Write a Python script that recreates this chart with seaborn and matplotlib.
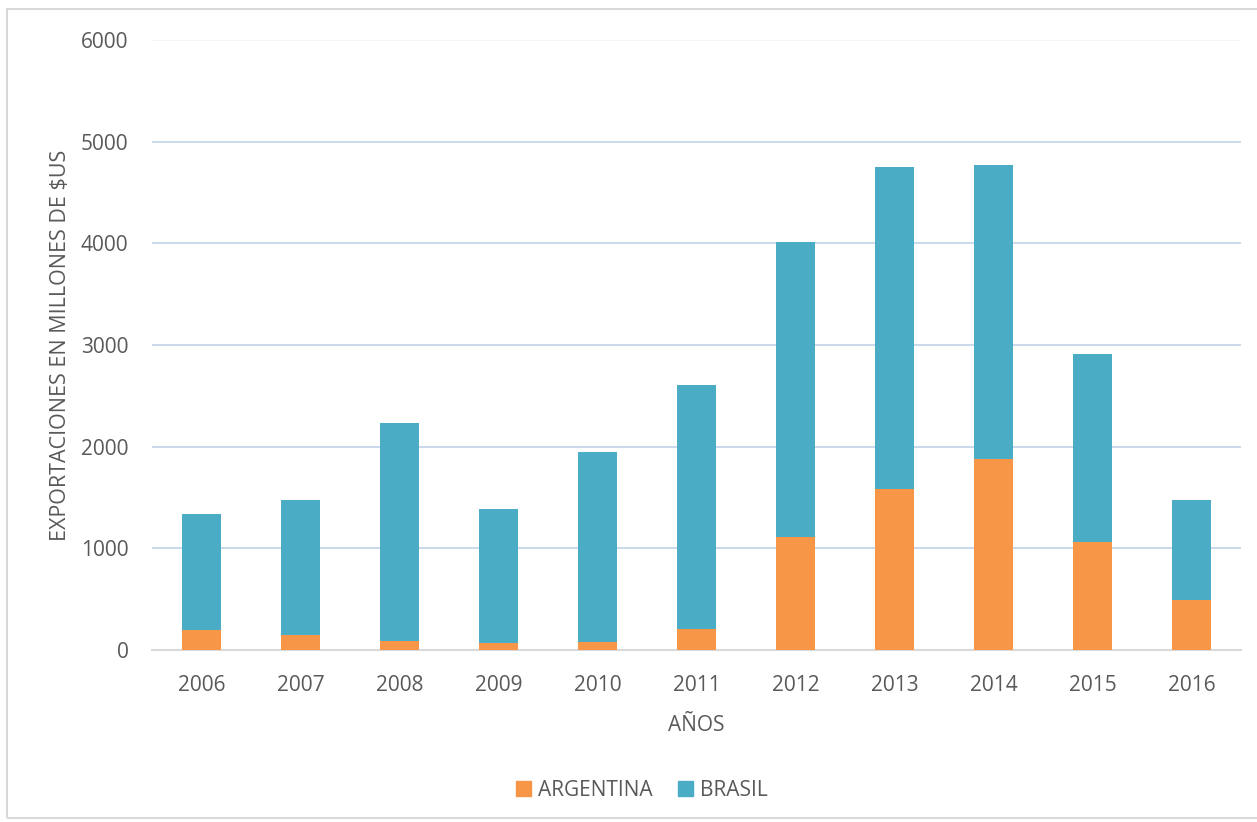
import seaborn as sns
import matplotlib.pyplot as plt
import pandas as pd
from matplotlib.patches import Patch, Rectangle

years = ['2006', '2007', '2008', '2009', '2010', '2011',
         '2012', '2013', '2014', '2015', '2016']
argentina = [197, 147, 88, 72, 82, 206, 1108, 1583, 1881, 1062, 489]
brasil = [1137, 1328, 2147, 1314, 1862, 2400, 2901, 3163, 2891, 1848, 989]

sns.set_theme(style="white")
plt.rcParams['font.family'] = ['Open Sans', 'DejaVu Sans']

ORANGE = '#F79646'
BLUE = '#4BACC6'
TXT = '#595959'
FS = 15

df = pd.DataFrame({'year': years, 'ARGENTINA': argentina, 'BRASIL': brasil})
df['total'] = df['ARGENTINA'] + df['BRASIL']

fig = plt.figure(figsize=(12.57, 8.22), dpi=100)
ax = fig.add_axes([152 / 1257, 1 - 650 / 822, 1089 / 1257, 610 / 822])

# stacked: total in blue, argentina over it in orange
sns.barplot(data=df, x='year', y='total', color=BLUE, width=0.4,
            saturation=1, linewidth=0, ax=ax, zorder=2)
sns.barplot(data=df, x='year', y='ARGENTINA', color=ORANGE, width=0.4,
            saturation=1, linewidth=0, ax=ax, zorder=3)

ax.set_ylim(0, 6000)
ax.set_xlim(-0.5, len(years) - 0.5)
ax.set_yticks(range(0, 6001, 1000))
ax.yaxis.grid(True, color='#C5D5EA', linewidth=1.3, zorder=0)
ax.get_ygridlines()[-1].set_color('#F2F5FA')
ax.set_axisbelow(True)
for s in ['top', 'right', 'left']:
    ax.spines[s].set_visible(False)
ax.spines['bottom'].set_color('#D9D9D9')
ax.spines['bottom'].set_linewidth(1.5)
ax.tick_params(axis='x', length=0, labelsize=FS, colors=TXT, pad=18)
ax.tick_params(axis='y', length=0, labelsize=FS, colors=TXT, pad=17)

ax.set_xlabel('AÑOS', fontsize=FS, color=TXT, labelpad=14)
ax.set_ylabel('EXPORTACIONES EN MILLONES DE $US', fontsize=15.5, color=TXT,
              labelpad=7)

handles = [Patch(color=ORANGE, label='ARGENTINA'),
           Patch(color=BLUE, label='BRASIL')]
fig.legend(handles=handles, loc='center', bbox_to_anchor=(642 / 1257, 1 - 790 / 822),
           ncol=2, frameon=False, fontsize=FS, labelcolor=TXT,
           handlelength=0.7, handleheight=0.7, columnspacing=1.2, handletextpad=0.35)

# outer chart frame
fig.patches.append(Rectangle((7 / 1257, 1 - 818 / 822), 1.0, 809 / 822,
                             transform=fig.transFigure, fill=False,
                             edgecolor='#D9D9D9', linewidth=1.5))

fig.savefig('out.png', dpi=100)
